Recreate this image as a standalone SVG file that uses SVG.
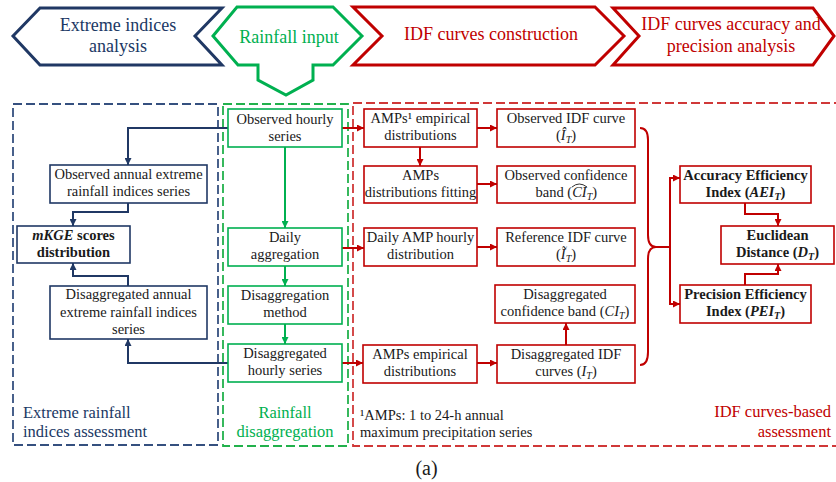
<svg xmlns="http://www.w3.org/2000/svg" width="836" height="482" viewBox="0 0 836 482">
<style>
text{font-family:"Liberation Serif","Times New Roman",serif;}
.hdr{font-size:18px;text-anchor:middle;}
.lbl{font-size:16.5px;}
.nt{font-size:14.5px;text-anchor:middle;fill:#1a1a1a;}
.b{font-weight:bold;}
.m{font-style:italic;}
.nb{fill:#fff;stroke:#203864;stroke-width:1.6;}
.ng{fill:#fff;stroke:#00B050;stroke-width:1.6;}
.nr{fill:#fff;stroke:#C00000;stroke-width:1.6;}
.cb{fill:none;stroke:#203864;stroke-width:2;}
.cg{fill:none;stroke:#00B050;stroke-width:2;}
.cr{fill:none;stroke:#C00000;stroke-width:2;}
.dash{fill:none;stroke-width:1.8;stroke-dasharray:9 4;}
</style>
<defs>
<marker id="ab" markerUnits="userSpaceOnUse" markerWidth="8" markerHeight="7" refX="7" refY="3.5" orient="auto"><path d="M0,0 L7,3.5 L0,7 z" fill="#203864"/></marker>
<marker id="ag" markerUnits="userSpaceOnUse" markerWidth="8" markerHeight="7" refX="7" refY="3.5" orient="auto"><path d="M0,0 L7,3.5 L0,7 z" fill="#00B050"/></marker>
<marker id="ar" markerUnits="userSpaceOnUse" markerWidth="8" markerHeight="7" refX="7" refY="3.5" orient="auto"><path d="M0,0 L7,3.5 L0,7 z" fill="#C00000"/></marker>
</defs>
<rect width="836" height="482" fill="#fff"/>

<g id="containers">
<rect x="13" y="104" width="205" height="341" class="dash" stroke="#35507F"/>
<rect x="223" y="104" width="125" height="342" class="dash" stroke="#22B14C"/>
<rect x="353" y="103" width="495" height="343" class="dash" stroke="#D03838"/>
<text class="lbl" x="23" y="418" fill="#203864">Extreme rainfall</text>
<text class="lbl" x="23" y="437" fill="#203864">indices assessment</text>
<text class="lbl" x="285" y="418" fill="#00B050" text-anchor="middle">Rainfall</text>
<text class="lbl" x="285" y="437" fill="#00B050" text-anchor="middle">disaggregation</text>
<text class="lbl" x="831" y="417" fill="#C00000" text-anchor="end">IDF curves-based</text>
<text class="lbl" x="831" y="437" fill="#C00000" text-anchor="end">assessment</text>
<text x="360" y="420" font-size="14.5" fill="#1a1a1a">¹AMPs: 1 to 24-h annual</text>
<text x="360" y="437" font-size="14.5" fill="#1a1a1a">maximum precipitation series</text>
<text x="426.5" y="475" font-size="20" text-anchor="middle" fill="#1a1a1a">(a)</text>
</g>

<g id="headers">
<g id="h-extreme">
<polygon points="13,36 40,8 222,8 195,36 222,65 40,65" fill="#fff" stroke="#203864" stroke-width="3"/>
<text class="hdr" x="118" y="31" fill="#203864">Extreme indices</text>
<text class="hdr" x="118" y="52" fill="#203864">analysis</text>
</g>
<g id="h-rainfall">
<polygon points="213,36 237,7 333,7 362,36 333,65 313,65 313,80 286,95 258,80 258,65 238,65" fill="#fff" stroke="#00B050" stroke-width="3"/>
<text class="hdr" x="289" y="43" fill="#00B050">Rainfall input</text>
</g>
<g id="h-idf">
<polygon points="353,7 595,7 624,36 595,65 353,65 382,36" fill="#fff" stroke="#C00000" stroke-width="3"/>
<text class="hdr" x="491" y="40" fill="#C00000">IDF curves construction</text>
</g>
<g id="h-acc">
<polygon points="613,8 813,8 834,36 813,65 613,65 639,36" fill="#fff" stroke="#C00000" stroke-width="3"/>
<text class="hdr" x="731" y="30" fill="#C00000">IDF curves accuracy and</text>
<text class="hdr" x="731" y="52" fill="#C00000">precision analysis</text>
</g>
</g>

<g id="connectors">
<path class="cb" d="M228,128 H128 V165" marker-end="url(#ab)"/>
<path class="cb" d="M128,203 V212 H73 V226" marker-end="url(#ab)"/>
<path class="cb" d="M128,286 V276 H73 V263" marker-end="url(#ab)"/>
<path class="cb" d="M228,363 H128 V339" marker-end="url(#ab)"/>
<path class="cg" d="M285,147 V228" marker-end="url(#ag)"/>
<path class="cg" d="M285,266 V286" marker-end="url(#ag)"/>
<path class="cg" d="M285,324 V344" marker-end="url(#ag)"/>
<path class="cr" d="M342,128 H364" marker-end="url(#ar)"/>
<path class="cr" d="M477,128 H497" marker-end="url(#ar)"/>
<path class="cr" d="M420,147 V166" marker-end="url(#ar)"/>
<path class="cr" d="M477,184 H497" marker-end="url(#ar)"/>
<path class="cr" d="M342,248 H364" marker-end="url(#ar)"/>
<path class="cr" d="M477,247 H497" marker-end="url(#ar)"/>
<path class="cr" d="M342,363 H363" marker-end="url(#ar)"/>
<path class="cr" d="M477,363 H497" marker-end="url(#ar)"/>
<path class="cr" d="M566,345 V323" marker-end="url(#ar)"/>
<path class="cr" stroke-width="2.5" d="M640,128 Q648,128 648,140 V235 Q648,247 656,247 Q648,247 648,259 V352 Q648,365 640,365"/>
<path class="cr" stroke-width="3" d="M654,247 H670"/>
<path class="cr" d="M670,247 V178 H680" marker-end="url(#ar)"/>
<path class="cr" d="M670,247 V304 H680" marker-end="url(#ar)"/>
<path class="cr" d="M745,203 V214 H778 V226" marker-end="url(#ar)"/>
<path class="cr" d="M745,285 V274 H778 V264" marker-end="url(#ar)"/>
</g>

<g id="n-obs-hourly"><rect class="ng" x="228" y="109" width="114" height="38"/>
<text class="nt" x="285" y="123.5">Observed hourly</text><text class="nt" x="285" y="141">series</text></g>
<g id="n-daily-agg"><rect class="ng" x="228" y="228" width="114" height="38"/>
<text class="nt" x="285" y="242">Daily</text><text class="nt" x="285" y="259">aggregation</text></g>
<g id="n-disagg-method"><rect class="ng" x="228" y="286" width="114" height="38"/>
<text class="nt" x="285" y="300">Disaggregation</text><text class="nt" x="285" y="317">method</text></g>
<g id="n-disagg-hourly"><rect class="ng" x="228" y="344" width="114" height="38"/>
<text class="nt" x="285" y="358">Disaggregated</text><text class="nt" x="285" y="375">hourly series</text></g>

<g id="n-obs-annual"><rect class="nb" x="50" y="165" width="157" height="38"/>
<text class="nt" x="128.5" y="179">Observed annual extreme</text><text class="nt" x="128.5" y="196">rainfall indices series</text></g>
<g id="n-mkge"><rect class="nb" x="17" y="226" width="113" height="37"/>
<text class="nt b" x="73.5" y="239.5"><tspan class="m">mKGE</tspan> scores</text><text class="nt b" x="73.5" y="256.5">distribution</text></g>
<g id="n-disagg-annual"><rect class="nb" x="50" y="286" width="157" height="53"/>
<text class="nt" x="128.5" y="299">Disaggregated annual</text><text class="nt" x="128.5" y="316.5">extreme rainfall indices</text><text class="nt" x="128.5" y="334">series</text></g>

<g id="n-amps1"><rect class="nr" x="364" y="109" width="113" height="38"/>
<text class="nt" x="420.5" y="123">AMPs¹ empirical</text><text class="nt" x="420.5" y="140">distributions</text></g>
<g id="n-obs-idf"><rect class="nr" x="497" y="109" width="138" height="38"/>
<text class="nt" x="566" y="123">Observed IDF curve</text><text class="nt" x="566" y="140">(<tspan class="m">Î</tspan><tspan class="m" font-size="10" dy="3">T</tspan><tspan dy="-3">)</tspan></text></g>
<g id="n-amps-fit"><rect class="nr" x="364" y="166" width="113" height="37"/>
<text class="nt" x="420.5" y="179.5">AMPs</text><text class="nt" x="420.5" y="196.5">distributions fitting</text></g>
<g id="n-obs-conf"><rect class="nr" x="497" y="166" width="138" height="37"/>
<text class="nt" x="566" y="179.5">Observed confidence</text><text x="535.5" y="196.5" font-size="14.5" fill="#1a1a1a">band (<tspan class="m">CI</tspan><tspan class="m" font-size="10" dy="3">T</tspan><tspan dy="-3">)</tspan></text>
<path d="M572,187 Q579,181 587,187" fill="none" stroke="#1a1a1a" stroke-width="0.9"/></g>
<g id="n-daily-amp"><rect class="nr" x="364" y="228" width="113" height="38"/>
<text class="nt" x="420.5" y="242">Daily AMP hourly</text><text class="nt" x="420.5" y="259">distribution</text></g>
<g id="n-ref-idf"><rect class="nr" x="497" y="228" width="138" height="38"/>
<text class="nt" x="566" y="242">Reference IDF curve</text><text class="nt" x="566" y="259">(<tspan class="m">Ĩ</tspan><tspan class="m" font-size="10" dy="3">T</tspan><tspan dy="-3">)</tspan></text></g>
<g id="n-disagg-conf"><rect class="nr" x="495" y="285" width="140" height="38"/>
<text class="nt" x="565" y="299">Disaggregated</text><text class="nt" x="565" y="316">confidence band (<tspan class="m">CI</tspan><tspan class="m" font-size="10" dy="3">T</tspan><tspan dy="-3">)</tspan></text></g>
<g id="n-amps-emp"><rect class="nr" x="363" y="345" width="114" height="38"/>
<text class="nt" x="420" y="359">AMPs empirical</text><text class="nt" x="420" y="376">distributions</text></g>
<g id="n-disagg-idf"><rect class="nr" x="497" y="345" width="138" height="38"/>
<text class="nt" x="566" y="359">Disaggregated IDF</text><text class="nt" x="566" y="376">curves (<tspan class="m">I</tspan><tspan class="m" font-size="10" dy="3">T</tspan><tspan dy="-3">)</tspan></text></g>

<g id="n-aei"><rect class="nr" x="680" y="166" width="131" height="37"/>
<text class="nt b" x="745.5" y="179.5">Accuracy Efficiency</text><text class="nt b" x="745.5" y="196.5">Index (<tspan class="m">AEI</tspan><tspan class="m" font-size="10" dy="3">T</tspan><tspan dy="-3">)</tspan></text></g>
<g id="n-euclid"><rect class="nr" x="721" y="226" width="113" height="38"/>
<text class="nt b" x="777.5" y="240">Euclidean</text><text class="nt b" x="777.5" y="257">Distance (<tspan class="m">D</tspan><tspan class="m" font-size="10" dy="3">T</tspan><tspan dy="-3">)</tspan></text></g>
<g id="n-pei"><rect class="nr" x="680" y="285" width="131" height="38"/>
<text class="nt b" x="745.5" y="299">Precision Efficiency</text><text class="nt b" x="745.5" y="316">Index (<tspan class="m">PEI</tspan><tspan class="m" font-size="10" dy="3">T</tspan><tspan dy="-3">)</tspan></text></g>
</svg>
